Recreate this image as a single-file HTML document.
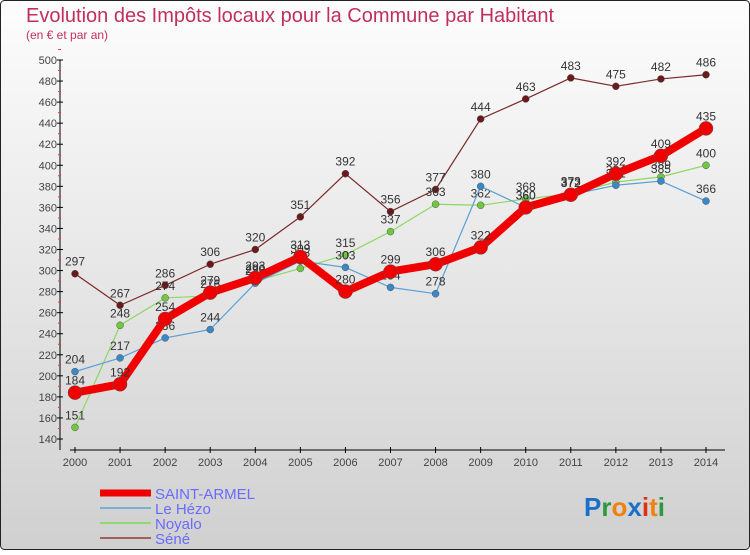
<!DOCTYPE html>
<html><head><meta charset="utf-8"><style>
body{margin:0;width:750px;height:550px;overflow:hidden;font-family:"Liberation Sans",sans-serif}
</style></head><body>
<svg id="chart" width="750" height="550" xmlns="http://www.w3.org/2000/svg">
<defs><linearGradient id="bg" x1="0" y1="0" x2="0" y2="1"><stop offset="0" stop-color="#fdfdfd"/><stop offset="1" stop-color="#d0d0d0"/></linearGradient></defs>
<rect x="0.5" y="0.5" width="749" height="549" rx="4" fill="url(#bg)" stroke="#222"/>
<text x="26" y="22" font-size="20" fill="#c0305a">Evolution des Impôts locaux pour la Commune par Habitant</text>
<text x="26" y="39" font-size="12" fill="#c0305a">(en € et par an)</text>
<g id="axes"></g><g id="series"></g><g id="legend"></g>
<text x="584" y="516" font-size="26" font-weight="bold"><tspan fill="#1a6fc8">P</tspan><tspan fill="#2a9a3a">r</tspan><tspan fill="#f08010">o</tspan><tspan fill="#1a6fc8">x</tspan><tspan fill="#e03010">i</tspan><tspan fill="#f08010">t</tspan><tspan fill="#2a9a3a">i</tspan></text>
</svg>
<script>
const years=[2000,2001,2002,2003,2004,2005,2006,2007,2008,2009,2010,2011,2012,2013,2014];
const saintArmel=[184,192,254,279,293,313,280,299,306,322,360,372,392,409,435];
const leHezo=[204,217,236,244,288,309,303,284,278,380,360,372,381,385,366];
const noyalo=[151,248,274,276,290,302,315,337,363,362,368,373,384,389,400];
const sene=[297,267,286,306,320,351,392,356,377,444,463,483,475,482,486];
const yTicks=[140,160,180,200,220,240,260,280,300,320,340,360,380,400,420,440,460,480,500];
const NS="http://www.w3.org/2000/svg";
const x=i=>75+i*(706-75)/(years.length-1);
const y=v=>439-(v-140)*(439-60)/(500-140);
function mk(t,a,p){const e=document.createElementNS(NS,t);for(const k in a)e.setAttribute(k,a[k]);p.appendChild(e);return e;}
const ax=document.getElementById('axes');
let l=mk('line',{x1:60,y1:60,x2:60,y2:450,stroke:'#000'},ax);


l=mk('line',{x1:70,y1:450,x2:725,y2:450,stroke:'#000'},ax);


yTicks.forEach(v=>{
  mk('line',{x1:57,x2:63,y1:y(v),y2:y(v),stroke:'#000'},ax);
  mk('line',{x1:58,x2:61,y1:y(v+10),y2:y(v+10),stroke:'#f33'},ax);
  const t=mk('text',{x:57,y:y(v)+4,'font-size':11,'text-anchor':'end',fill:'#444'},ax);t.textContent=v;
  
  
});
years.forEach((yr,i)=>{
  mk('line',{x1:x(i),x2:x(i),y1:447,y2:453,stroke:'#000'},ax);
  const t=mk('text',{x:x(i),y:466,'font-size':11,'text-anchor':'middle',fill:'#444'},ax);t.textContent=yr;
  
  
});
const sg=document.getElementById('series');
function draw(name,data,color,w,r,dot){
  const g=mk('g',{},sg);
  
  
  mk('polyline',{points:data.map((v,i)=>x(i)+','+y(v)).join(' '),fill:'none',stroke:color,'stroke-width':w,'stroke-linejoin':'round'},g);
  data.forEach((v,i)=>{
    const c=mk('circle',{cx:x(i),cy:y(v),r:r,fill:dot,stroke:'#555','stroke-width':0.5},g);
    
    
    const t=mk('text',{x:x(i),y:y(v)-8,'font-size':12,'text-anchor':'middle',fill:'#333'},g);t.textContent=v;
  });
}
draw('sene',sene,'#7a2a2a',1.2,3.5,'#6a1a1a');
draw('noyalo',noyalo,'#8cd860',1.2,3.5,'#70c840');
draw('le-hezo',leHezo,'#5aa0d8',1.2,3.5,'#3a88c8');
draw('saint-armel',saintArmel,'#f00000',8,7,'#f00000');
const lg=document.getElementById('legend');
[['SAINT-ARMEL','#f00000',7],['Le Hézo','#7ab0d8',2],['Noyalo','#90d870',2],['Séné','#a06060',2]].forEach((d,i)=>{
  const yy=493+i*15;
  const g=mk('g',{},lg);
  
  
  mk('line',{x1:100,x2:151,y1:yy,y2:yy,stroke:d[1],'stroke-width':d[2]},g);
  const t=mk('text',{x:155,y:yy+6,'font-size':15,fill:'#6a6aff'},g);t.textContent=d[0];
});
</script>
</body></html>
